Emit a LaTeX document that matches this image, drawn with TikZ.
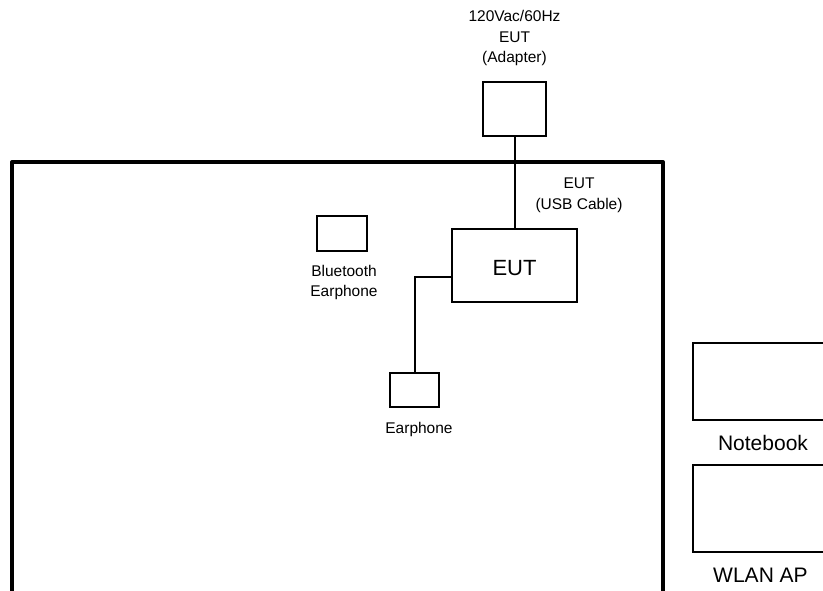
\documentclass[tikz,border=0pt]{standalone}
\usepackage{fontspec}
\setmainfont{Liberation Sans}
\begin{document}
\begin{tikzpicture}[x=1pt,y=-1pt,
  box/.style={draw,line width=2pt,rectangle,inner sep=0pt},
  lbl/.style={align=center,inner sep=0pt,font=\fontsize{15.5}{20.5}\selectfont},
  big/.style={align=center,inner sep=0pt,font=\fontsize{21}{24}\selectfont},
  wire/.style={line width=2pt},
  table/.style={line width=4pt,line join=round}]
\useasboundingbox (0,0) rectangle (823,591);
\clip (0,0) rectangle (823,591);
% test table outline
\draw[table] (12,600) -- (12,162) -- (663,162) -- (663,600);
% nodes
\node[box,minimum width=125pt,minimum height=73pt] (eut) at (514.5,265.5) {};
\node[inner sep=0pt,font=\fontsize{22}{24}\selectfont] (euttxt) at (514.5,268) {EUT};
\node[box,minimum width=63pt,minimum height=54pt] (adapter) at (514.5,109) {};
\node[box,minimum width=50pt,minimum height=35pt] (bt) at (342,233.5) {};
\node[box,minimum width=49pt,minimum height=34pt] (ear) at (414.5,390) {};
\node[box,minimum width=147pt,minimum height=77pt] (nb) at (766.5,381.5) {};
\node[box,minimum width=147pt,minimum height=87pt] (ap) at (766.5,508.5) {};
% labels
\node[lbl] (adlbl) at (514.5,38) {120Vac/60Hz\\EUT\\(Adapter)};
\node[lbl] (usblbl) at (579,195.5) {EUT\\(USB Cable)};
\node[lbl] (btlbl) at (344,282.5) {Bluetooth\\Earphone};
\node[lbl] (earlbl) at (419,429) {Earphone};
\node[big] (nblbl) at (763,443) {Notebook};
\node[big] (aplbl) at (760.5,575) {WLAN AP};
% connectors
\draw[wire] (adapter.south) -- (eut.north);
\draw[wire] ([yshift=-11.5pt]eut.west) -| (ear.north);
\end{tikzpicture}
\end{document}
